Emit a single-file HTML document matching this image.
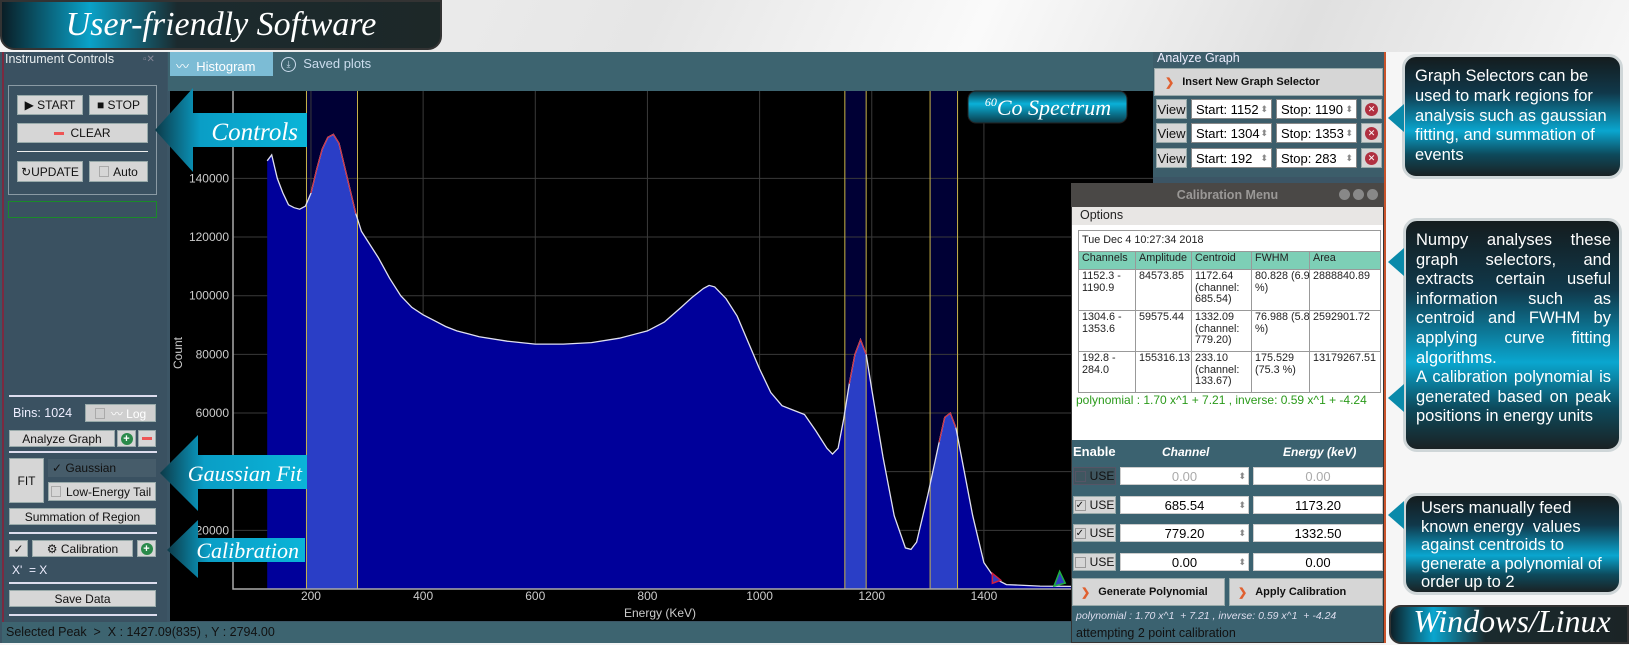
<!DOCTYPE html>
<html><head><meta charset="utf-8">
<style>
*{box-sizing:border-box;margin:0;padding:0}
body{width:1629px;height:645px;overflow:hidden;position:relative;background:#f2f2f2;font-family:"Liberation Sans",sans-serif;font-size:12px}
.abs{position:absolute}
.btn{position:absolute;background:#d6d6d6;border:1px solid #9aa;color:#111;font-size:12px;display:flex;align-items:center;justify-content:center}
.sep{position:absolute;left:9px;width:148px;height:2px;background:#dde}
.script{font-family:"Liberation Serif",serif;font-style:italic;color:#fff}
.callout{position:absolute;border:3px solid #cfd6d8;border-radius:14px;background:linear-gradient(180deg,#141c1e 0%,#10384a 30%,#0aa6cf 62%,#0d4a5c 82%,#1a2224 100%);color:#fff;font-size:16.5px;line-height:19.6px;padding:6px 8px 6px 10px;text-align:justify}
.inp{position:absolute;background:#fff;border:1px solid #888;font-size:13px;display:flex;align-items:center}
th,td{border:1px solid #999;font-size:10.8px;font-family:"Liberation Sans",sans-serif;vertical-align:top;padding:1px 3px;text-align:left;font-weight:normal;color:#222;line-height:11.6px;overflow:hidden;white-space:nowrap}
</style></head><body>

<div class="abs" style="left:0;top:0;width:1629px;height:52px;background:linear-gradient(115deg,#f4f4f4 0%,#e6e6e6 40%,#fafafa 60%,#e0e0e0 80%,#f6f6f6 100%)"></div>
<div class="abs" style="left:0;top:0;width:442px;height:50px;border-radius:0 0 14px 14px;background:linear-gradient(90deg,#0a1e26 0%,#0aa2c8 20%,#1b2a2e 40%,#1d2828 100%);border:2px solid #333;"></div>
<div class="abs script" style="left:0;top:6px;width:442px;text-align:center;font-size:34px;">User-friendly Software</div>

<div class="abs" style="left:0;top:52px;width:1386px;height:593px;background:#3c5565;border-right:2px solid #c9542c"></div>
<div class="abs" style="left:2px;top:52px;width:165px;height:570px;background:#3a5161;border-left:2px solid #7a2a40"></div>
<div class="abs" style="left:5px;top:52px;color:#e8eef0;font-size:12.5px">Instrument Controls</div>
<div class="abs" style="left:143px;top:54px;color:#889;font-size:10px">▫✕</div>
<div class="abs" style="left:8px;top:85px;width:149px;height:110px;border:1px solid #8a9aa4"></div>
<div class="btn" style="left:17px;top:95px;width:66px;height:20px">▶ START</div>
<div class="btn" style="left:89px;top:95px;width:59px;height:20px">■ STOP</div>
<div class="btn" style="left:17px;top:123px;width:131px;height:20px"><span style="display:inline-block;width:10px;height:3px;background:#e55;margin-right:6px"></span>CLEAR</div>
<div class="abs" style="left:17px;top:151px;width:131px;height:1px;background:#eee"></div>
<div class="btn" style="left:17px;top:161px;width:66px;height:21px">↻UPDATE</div>
<div class="btn" style="left:89px;top:161px;width:59px;height:21px"><span style="display:inline-block;width:10px;height:11px;border:1px solid #aaa;margin-right:4px"></span>Auto</div>
<div class="abs" style="left:8px;top:201px;width:149px;height:17px;border:1px solid #1a8a2a"></div>

<div class="sep" style="top:395px"></div>
<div class="abs" style="left:13px;top:406px;color:#eef;font-size:12.5px">Bins: 1024</div>
<div class="btn" style="left:85px;top:404px;width:71px;height:18px;color:#fff;background:#cfcfcf"><span style="display:inline-block;width:10px;height:11px;border:1px solid #aaa;margin-right:6px"></span>〰 Log</div>
<div class="btn" style="left:9px;top:430px;width:106px;height:17px">Analyze Graph</div>
<div class="btn" style="left:117px;top:430px;width:19px;height:17px"><span style="display:inline-block;width:12px;height:12px;border-radius:50%;background:#2a8a4a;color:#fff;font-size:11px;line-height:12px;text-align:center;font-weight:bold">+</span></div>
<div class="btn" style="left:138px;top:430px;width:18px;height:17px"><span style="display:inline-block;width:10px;height:3px;background:#e55"></span></div>
<div class="sep" style="top:451px"></div>
<div class="btn" style="left:9px;top:458px;width:35px;height:45px">FIT</div>
<div class="abs" style="left:48px;top:459px;width:108px;height:18px;background:#465c6a;color:#111;font-size:12px;padding:2px 4px">✓ Gaussian</div>
<div class="btn" style="left:48px;top:482px;width:108px;height:19px;justify-content:flex-start;padding-left:2px"><span style="display:inline-block;width:10px;height:11px;border:1px solid #aaa;margin-right:5px"></span>Low-Energy Tail</div>
<div class="btn" style="left:9px;top:508px;width:147px;height:17px">Summation of Region</div>
<div class="sep" style="top:532px"></div>
<div class="btn" style="left:9px;top:540px;width:19px;height:17px">✓</div>
<div class="btn" style="left:32px;top:540px;width:101px;height:17px">⚙ Calibration</div>
<div class="btn" style="left:137px;top:540px;width:19px;height:17px"><span style="display:inline-block;width:12px;height:12px;border-radius:50%;background:#2a8a4a;color:#fff;font-size:11px;line-height:12px;text-align:center;font-weight:bold">+</span></div>
<div class="abs" style="left:12px;top:563px;color:#eef;font-size:12px">X' &nbsp;= X</div>
<div class="sep" style="top:582px"></div>
<div class="btn" style="left:9px;top:590px;width:147px;height:17px">Save Data</div>
<div class="sep" style="top:614px"></div>
<div class="abs" style="left:2px;top:622px;width:1382px;height:21px;background:#3d6470;color:#111;font-size:12.5px;padding:3px 4px">Selected Peak &nbsp;&gt; &nbsp;X : 1427.09(835) , Y : 2794.00</div>
<div class="abs" style="left:0;top:643px;width:1629px;height:2px;background:#f4f4f4"></div>

<div class="abs" style="left:168px;top:52px;width:985px;height:39px;background:#3d6470"></div>
<div class="abs" style="left:170px;top:52px;width:103px;height:24px;background:#7cbcd5;color:#fff;font-size:13px;padding:4px 0 0 6px">〰&nbsp; Histogram</div>
<div class="abs" style="left:279px;top:52px;width:100px;height:24px;color:#cde;font-size:13px;padding:4px 0 0 2px"><span style="display:inline-block;width:15px;height:15px;border:1px solid #cde;border-radius:50%;font-size:9px;text-align:center;line-height:13px;vertical-align:middle">⤓</span>&nbsp; Saved plots</div>

<svg class="abs" id="chart" style="left:0;top:0" width="1629" height="645" viewBox="0 0 1629 645"></svg>

<div class="abs" style="left:1153px;top:52px;width:231px;height:125px;background:#3c5d6a"></div>
<div class="abs" style="left:1157px;top:51px;color:#eef;font-size:12.5px">Analyze Graph</div>
<div class="btn" style="left:1154px;top:68px;width:229px;height:28px;justify-content:flex-start;padding-left:10px;font-weight:bold;font-size:11px"><span style="color:#e06030;margin-right:8px">❯</span>Insert New Graph Selector</div>
<div id="selectors"></div>

<div class="abs" style="left:1071px;top:183px;width:313px;height:460px;background:#3b6270;border:1px solid #333"></div>
<div class="abs" style="left:1071px;top:183px;width:313px;height:24px;background:#4a4846;color:#9a9896;font-weight:bold;font-size:12.5px;text-align:center;line-height:24px">Calibration Menu
<span style="position:absolute;right:6px;top:6px;display:flex;gap:3px"><i style="display:block;width:11px;height:11px;border-radius:50%;background:#888"></i><i style="display:block;width:11px;height:11px;border-radius:50%;background:#888"></i><i style="display:block;width:11px;height:11px;border-radius:50%;background:#888"></i></span></div>
<div class="abs" style="left:1072px;top:207px;width:311px;height:18px;background:#e8e6e4;font-size:12.5px;padding:1px 8px;color:#222">Options</div>
<div class="abs" style="left:1072px;top:225px;width:311px;height:215px;background:#fff"></div>
<table class="abs" style="left:1078px;top:230px;width:302px;border-collapse:collapse;background:#fff;table-layout:fixed">
<colgroup><col style="width:57px"><col style="width:56px"><col style="width:60px"><col style="width:58px"><col style="width:71px"></colgroup>
<tr style="height:21px"><td colspan="5" style="vertical-align:middle">Tue Dec 4 10:27:34 2018</td></tr>
<tr style="height:18px;background:#7dcfb6"><th>Channels</th><th>Amplitude</th><th>Centroid</th><th>FWHM</th><th>Area</th></tr>
<tr style="height:41px"><td>1152.3 -<br>1190.9</td><td>84573.85</td><td>1172.64<br>(channel:<br>685.54)</td><td>80.828 (6.9<br>%)</td><td>2888840.89</td></tr>
<tr style="height:41px"><td>1304.6 -<br>1353.6</td><td>59575.44</td><td>1332.09<br>(channel:<br>779.20)</td><td>76.988 (5.8<br>%)</td><td>2592901.72</td></tr>
<tr style="height:41px"><td>192.8 -<br>284.0</td><td>155316.13</td><td>233.10<br>(channel:<br>133.67)</td><td>175.529<br>(75.3 %)</td><td>13179267.51</td></tr>
</table>
<div class="abs" style="left:1076px;top:393px;color:#2a9a1a;font-size:12px;white-space:nowrap">polynomial : 1.70 x^1 + 7.21 , inverse: 0.59 x^1 + -4.24</div>
<div class="abs" style="left:1073px;top:444px;color:#fff;font-weight:bold;font-size:13px">Enable</div>
<div class="abs" style="left:1162px;top:445px;color:#fff;font-weight:bold;font-style:italic;font-size:12px">Channel</div>
<div class="abs" style="left:1283px;top:445px;color:#fff;font-weight:bold;font-style:italic;font-size:12px">Energy (keV)</div>
<div id="calrows"></div>
<div class="btn" style="left:1072px;top:578px;width:153px;height:28px;justify-content:flex-start;padding-left:8px;font-weight:bold;font-size:11px"><span style="color:#e06030;margin-right:8px">❯</span>Generate Polynomial</div>
<div class="btn" style="left:1229px;top:578px;width:154px;height:28px;justify-content:flex-start;padding-left:8px;font-weight:bold;font-size:11px"><span style="color:#e06030;margin-right:8px">❯</span>Apply Calibration</div>
<div class="abs" style="left:1076px;top:610px;color:#dde;font-style:italic;font-size:10.5px">polynomial : 1.70 x^1 &nbsp;+ 7.21 , inverse: 0.59 x^1 &nbsp;+ -4.24</div>
<div class="abs" style="left:1076px;top:626px;color:#111;font-size:12.5px">attempting 2 point calibration</div>

<div class="abs" style="left:1386px;top:52px;width:243px;height:593px;background:#f6f6f6"></div>
<div class="callout" style="left:1402px;top:54px;width:221px;height:125px;text-align:left;line-height:19.8px;padding-top:10px">Graph Selectors can be used to mark regions for analysis such as gaussian fitting, and summation of events</div>
<div class="callout" style="left:1403px;top:218px;width:219px;height:234px;padding-top:10px">Numpy analyses these graph selectors, and extracts certain useful information such as centroid and FWHM by applying curve fitting algorithms.<br>A calibration polynomial is generated based on peak positions in energy units</div>
<div class="callout" style="left:1403px;top:493px;width:219px;height:102px;text-align:left;padding:3px 6px 4px 15px;line-height:18.5px">Users manually feed known energy &nbsp;values against centroids to generate a polynomial of order up to 2</div>
<svg class="abs" style="left:1384px;top:0" width="22" height="645">
<polygon points="4,118 20,104 20,132" fill="#0a8aaa"/><polygon points="4,262 20,248 20,276" fill="#0a8aaa"/><polygon points="4,398 20,384 20,412" fill="#0a8aaa"/><polygon points="4,515 20,501 20,529" fill="#0a8aaa"/></svg>
<div class="abs" style="left:1389px;top:605px;width:240px;height:39px;border-radius:12px 0 0 12px;background:linear-gradient(90deg,#0d2028 0%,#0aa6cf 18%,#1a2a2e 40%,#1b2426 100%);border:2px solid #333"></div>
<div class="abs script" style="left:1395px;top:603px;width:234px;text-align:center;font-size:32px">Windows/Linux</div>

<svg class="abs" style="left:0;top:0" width="1629" height="645">
<defs><linearGradient id="ag" x1="0" y1="0" x2="1" y2="0"><stop offset="0" stop-color="#0c3a48"/><stop offset="0.3" stop-color="#0a9ec6"/><stop offset="1" stop-color="#0ab4d8"/></linearGradient>
<linearGradient id="cg" x1="0" y1="0" x2="0" y2="1"><stop offset="0" stop-color="#0a3a48"/><stop offset="0.4" stop-color="#0ab0d8"/><stop offset="1" stop-color="#0a3a48"/></linearGradient></defs>
<g><polygon points="155,130 193,88 193,113 307,113 307,147 193,147 193,172" fill="url(#ag)"/><text x="298" y="140" text-anchor="end" font-family="Liberation Serif" font-style="italic" font-size="25" fill="#fff">Controls</text></g>
<g><polygon points="160,473 198,435 198,455 307,455 307,489 198,489 198,511" fill="url(#ag)"/><text x="302" y="481" text-anchor="end" font-family="Liberation Serif" font-style="italic" font-size="22" fill="#fff">Gaussian Fit</text></g>
<g><polygon points="167,550 198,520 198,538 305,538 305,562 198,562 198,578" fill="url(#ag)"/><text x="299" y="558" text-anchor="end" font-family="Liberation Serif" font-style="italic" font-size="22" fill="#fff">Calibration</text></g>
<g><rect x="968" y="91" width="159" height="32" rx="8" fill="url(#cg)" stroke="#222"/><text x="1048" y="115" text-anchor="middle" font-family="Liberation Serif" font-style="italic" font-size="22" fill="#fff"><tspan font-size="12" dy="-9">60</tspan><tspan dy="9">Co Spectrum</tspan></text></g>
</svg>

<script>
const energies = [122,130,140,150,160,170,180,190,200,210,220,230,240,250,260,270,280,290,300,320,340,360,380,400,420,440,460,480,500,550,600,650,700,750,800,830,860,880,900,910,920,940,960,980,1000,1020,1040,1060,1080,1100,1120,1130,1140,1150,1160,1170,1180,1190,1200,1220,1240,1260,1270,1280,1300,1320,1330,1340,1350,1360,1380,1400,1420,1440,1500,1560,1600];
const counts = [146000,148000,140000,135000,131000,130000,129500,130500,135000,143000,150000,154000,155000,152000,144000,136000,128000,122000,119000,113000,106000,100000,96000,93500,91500,89500,88000,87000,86000,84500,83500,83500,84000,85500,88000,91000,96000,99500,102500,103500,103000,99000,93000,84000,75000,67000,62500,61000,59500,54000,48000,46000,48000,58000,70000,80000,85000,80000,68000,45000,25000,14000,13500,16000,32000,50000,58500,60000,55000,45000,25000,9000,3500,1500,1000,900,900];
const selStart = [1152,1304,192];
const selStop = [1190,1353,283];
const xTicks = [200,400,600,800,1000,1200,1400];
const yTicks = [20000,40000,60000,80000,100000,120000,140000];
const yTickLabels = ["20000","40000","60000","80000","100000","120000","140000"];

const X0=198.8, XS=0.5608, Y0=589, YS=0.002933;
function xs(e){return X0+e*XS;}
function ys(c){return Y0-c*YS;}
const NS="http://www.w3.org/2000/svg";
const svg=document.getElementById('chart');
function mk(tag,attrs,parent){const el=document.createElementNS(NS,tag);for(const k in attrs)el.setAttribute(k,attrs[k]);(parent||svg).appendChild(el);return el;}

const bg=mk('rect',{x:170,y:91,width:983,height:530,fill:'#000'});



selStart.forEach((s,i)=>{
  const r=mk('rect',{x:xs(s),y:91,width:xs(selStop[i])-xs(s),height:Y0-91,fill:'#000035'});
  
  
});
xTicks.forEach(t=>{
  const l=mk('line',{x1:xs(t),x2:xs(t),y1:91,y2:Y0,stroke:'#3a3a3a','stroke-width':1});
  
  
});
yTicks.forEach(t=>{
  const l=mk('line',{x1:233,x2:1153,y1:ys(t),y2:ys(t),stroke:'#3a3a3a','stroke-width':1});
  
  
});
let d='M'+xs(energies[0])+','+ys(0);
energies.forEach((e,i)=>{d+=' L'+xs(e).toFixed(1)+','+ys(counts[i]).toFixed(1);});
d+=' L'+xs(energies[energies.length-1])+','+ys(0)+' Z';
const defs=mk('defs',{});
const cp=mk('clipPath',{id:'areaclip'},defs);
mk('path',{d:d},cp);
const area=mk('path',{d:d,fill:'#00009a'});


selStart.forEach((s,i)=>{
  const r=mk('rect',{x:xs(s),y:91,width:xs(selStop[i])-xs(s),height:Y0-91,fill:'#2a3ec6','clip-path':'url(#areaclip)'});
  
  
});
selStart.forEach((s,i)=>{
  [s,selStop[i]].forEach(v=>{
    const l=mk('line',{x1:xs(v),x2:xs(v),y1:91,y2:Y0,stroke:'#c8b44a','stroke-width':1});
    
    
  });
});
let ld='';
energies.forEach((e,i)=>{ld+=(i?' L':'M')+xs(e).toFixed(1)+','+ys(counts[i]).toFixed(1);});
const line=mk('path',{d:ld,fill:'none',stroke:'#e0e0f0','stroke-width':1.3});


selStart.forEach((s,i)=>{
  let fd='';
  energies.forEach((e,j)=>{if(e>=s&&e<=selStop[i])fd+=(fd?' L':'M')+xs(e).toFixed(1)+','+ys(counts[j]).toFixed(1);});
  const f=mk('path',{d:fd,fill:'none',stroke:'#d03040','stroke-width':1.2});
  
  
});
const ax=mk('path',{d:'M233,91 L233,'+Y0+' L1153,'+Y0,fill:'none',stroke:'#aaa','stroke-width':1.5});


xTicks.forEach(t=>{
  const tx=mk('text',{x:xs(t),y:600,'text-anchor':'middle','font-size':12,fill:'#ccc','font-family':'Liberation Sans'});
  tx.textContent=String(t);
  
  
});
yTicks.forEach((t,i)=>{
  const tx=mk('text',{x:229,y:ys(t)+4,'text-anchor':'end','font-size':12,fill:'#ccc','font-family':'Liberation Sans'});
  tx.textContent=yTickLabels[i];
  
  
});
const xt=mk('text',{x:660,y:617,'text-anchor':'middle','font-size':12,fill:'#ccc','font-family':'Liberation Sans'});
xt.textContent='Energy (KeV)';


const yt=mk('text',{x:0,y:0,'text-anchor':'middle','font-size':12,fill:'#ccc','font-family':'Liberation Sans',transform:'translate(182,353) rotate(-90)'});
yt.textContent='Count';


const m1=mk('polygon',{points:[xs(1415),ys(4000)-4,xs(1430),ys(3000),xs(1415),ys(4000)+6].join(' '),fill:'#3040c0',stroke:'#d02040','stroke-width':1.5});


const m2=mk('polygon',{points:[xs(1535),ys(6000),xs(1525),ys(1000),xs(1545),ys(2000)].join(' '),fill:'#3040c0',stroke:'#20b040','stroke-width':1.5});



const selCont=document.getElementById('selectors');
const selTops=[99,123,148];
selStart.forEach((s,i)=>{
  const t=selTops[i];
  const v=document.createElement('div');v.className='btn';v.style.cssText=`left:1156px;top:${t}px;width:31px;height:20px;font-size:13px`;v.textContent='View';
  
  
  selCont.appendChild(v);
  const a=document.createElement('div');a.className='inp';a.style.cssText=`left:1191px;top:${t}px;width:81px;height:20px;padding-left:4px`;a.innerHTML='Start: '+s+'<span style="position:absolute;right:3px;color:#888;font-size:9px">⬍</span>';
  
  
  selCont.appendChild(a);
  const b=document.createElement('div');b.className='inp';b.style.cssText=`left:1276px;top:${t}px;width:81px;height:20px;padding-left:4px`;b.innerHTML='Stop: '+selStop[i]+'<span style="position:absolute;right:3px;color:#888;font-size:9px">⬍</span>';
  
  
  selCont.appendChild(b);
  const x=document.createElement('div');x.className='btn';x.style.cssText=`left:1361px;top:${t}px;width:21px;height:20px`;x.innerHTML='<span style="display:inline-block;width:13px;height:13px;border-radius:50%;background:#b03040;color:#fff;font-size:9px;line-height:13px;text-align:center">✕</span>';
  
  
  selCont.appendChild(x);
});

const calChannels=["0.00","685.54","779.20","0.00"];
const calEnergies=["0.00","1173.20","1332.50","0.00"];
const calChecked=[false,true,true,false];
const calTops=[467,496,524,553];
const cr=document.getElementById('calrows');
calChannels.forEach((c,i)=>{
  const t=calTops[i];const dis=i===0;
  const u=document.createElement('div');u.className='btn';u.style.cssText=`left:1073px;top:${t}px;width:43px;height:18px;font-size:12px;${dis?'background:#3f5660;border-color:#556':''}`;
  u.innerHTML=`<span style="display:inline-block;width:11px;height:11px;border:1px solid ${dis?'#556':'#999'};margin-right:4px;font-size:10px;line-height:10px">${calChecked[i]?'✓':''}</span>USE`;
  
  
  cr.appendChild(u);
  const ch=document.createElement('div');ch.className='inp';ch.style.cssText=`left:1120px;top:${t}px;width:129px;height:18px;justify-content:center;border-color:#ccc;${dis?'color:#aaa':''}`;ch.innerHTML=c+'<span style="position:absolute;right:2px;color:#888;font-size:9px">⬍</span>';
  
  
  cr.appendChild(ch);
  const en=document.createElement('div');en.className='inp';en.style.cssText=`left:1253px;top:${t}px;width:130px;height:18px;justify-content:center;border-color:#ccc;${dis?'color:#aaa':''}`;en.textContent=calEnergies[i];
  
  
  cr.appendChild(en);
});
</script>
</body></html>
